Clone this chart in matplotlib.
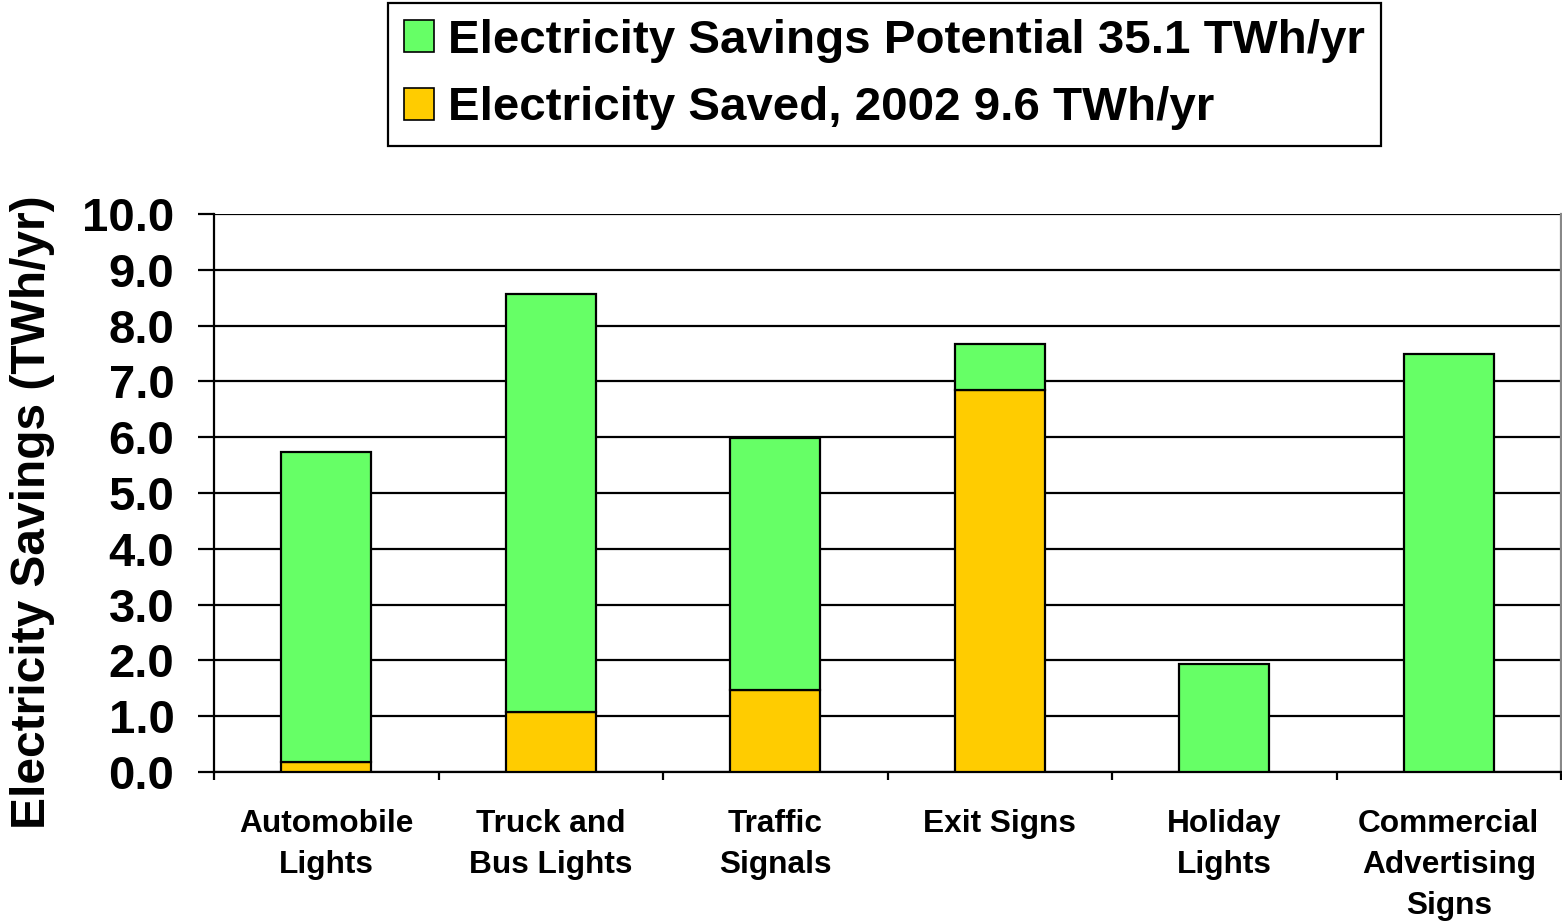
import matplotlib
matplotlib.use("Agg")
import matplotlib.pyplot as plt
from matplotlib.patches import Patch
import numpy as np

plt.rcParams['font.family'] = ['Liberation Sans', 'DejaVu Sans']
plt.rcParams['font.weight'] = 'bold'

categories = ["Automobile\nLights", "Truck and\nBus Lights", "Traffic\nSignals",
              "Exit Signs", "Holiday\nLights", "Commercial\nAdvertising\nSigns"]
potential = [5.73, 8.57, 5.99, 7.67, 1.94, 7.49]
saved_2002 = [0.18, 1.07, 1.47, 6.85, 0.0, 0.0]
yticks = [0, 1, 2, 3, 4, 5, 6, 7, 8, 9, 10]
legend_labels = ["Electricity Savings Potential 35.1 TWh/yr",
                 "Electricity Saved, 2002 9.6 TWh/yr"]

green = "#66FF66"
gold = "#FFCC00"

fig = plt.figure(figsize=(15.62, 9.21), dpi=100)
ax = fig.add_axes([214 / 1562, 1 - 772 / 921, (1561 - 214) / 1562, (772 - 214) / 921])

x = np.arange(len(categories))
width = 0.4
remaining = [p - s for p, s in zip(potential, saved_2002)]
ax.bar(x, saved_2002, width, color=gold, edgecolor="black", linewidth=1.6, zorder=3)
ax.bar(x, remaining, width, bottom=saved_2002, color=green, edgecolor="black",
       linewidth=1.6, zorder=3)

ax.set_xlim(-0.5, len(categories) - 0.5)
ax.set_ylim(0, 10)
ax.set_yticks(yticks)
ax.set_yticklabels([f"{v:.1f}" for v in yticks])
ax.yaxis.grid(True, color="black", linewidth=1.6, zorder=1)
ax.set_axisbelow(True)

for s in ["left", "top", "right", "bottom"]:
    ax.spines[s].set_linewidth(1.6)
ax.spines["right"].set_color("#888888")
ax.spines["top"].set_visible(False)

ax.tick_params(axis="y", length=11.5, width=1.6, pad=17, labelsize=34)
ax.set_xticks(x)
ax.set_xticklabels(categories, fontsize=22.8, linespacing=1.48, va="top")
ax.tick_params(axis="x", which="major", length=0, pad=26.5)
ax.set_xticks(np.arange(len(categories) + 1) - 0.5, minor=True)
ax.tick_params(axis="x", which="minor", length=6, width=1.6)

fig.text(33 / 1562, 1 - 512 / 921, "Electricity Savings (TWh/yr)", rotation=90,
         fontsize=34.5, fontweight="bold", ha="center", va="center")

handles = [Patch(facecolor=green, edgecolor="black", linewidth=1.2),
           Patch(facecolor=gold, edgecolor="black", linewidth=1.2)]
leg = fig.legend(handles, legend_labels, loc="upper left",
                 bbox_to_anchor=(388 / 1562, 1 - 3 / 921), fontsize=34.2,
                 frameon=True, fancybox=False, edgecolor="black", framealpha=1,
                 handlelength=0.63, handleheight=0.67, handletextpad=0.31,
                 labelspacing=0.5, borderpad=0.33, borderaxespad=0)
leg.get_frame().set_linewidth(1.6)

fig.savefig("out.png", dpi=100)
